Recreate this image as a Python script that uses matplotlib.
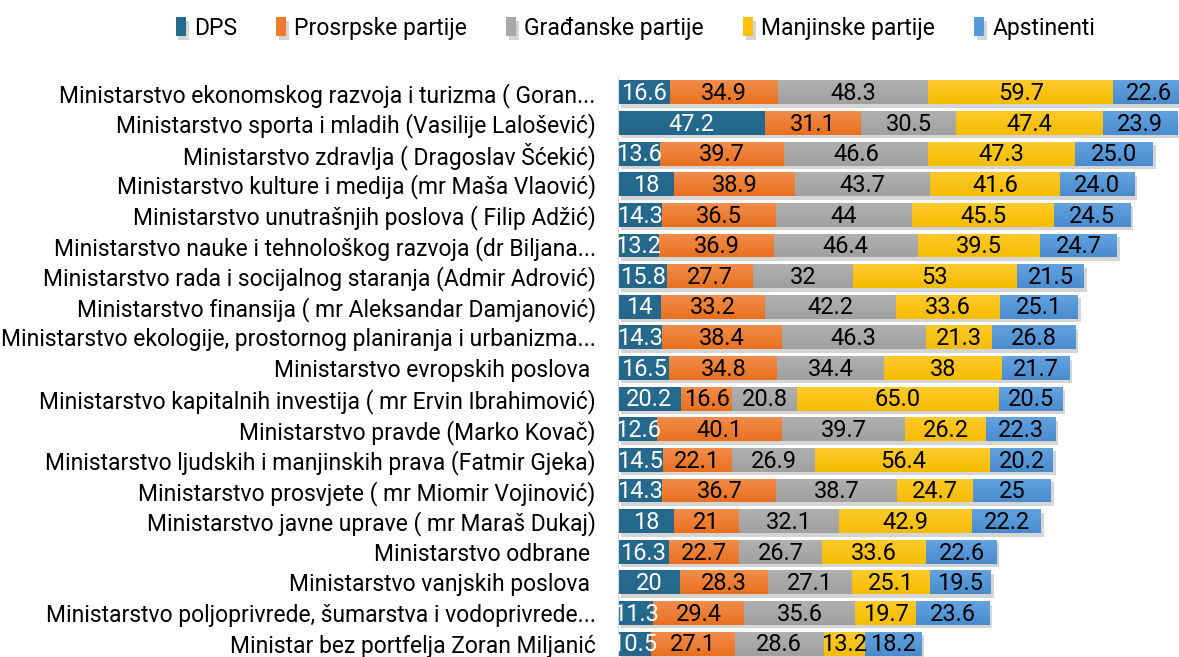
import matplotlib
matplotlib.use("Agg")
import matplotlib.pyplot as plt
import matplotlib.patheffects as pe
from matplotlib.colors import LinearSegmentedColormap
import numpy as np

# data (top row first)
categories = [
    "Ministarstvo ekonomskog razvoja i turizma ( Goran...",
    "Ministarstvo sporta i mladih (Vasilije Lalošević)",
    "Ministarstvo zdravlja ( Dragoslav Šćekić)",
    "Ministarstvo kulture i medija (mr Maša Vlaović)",
    "Ministarstvo unutrašnjih poslova ( Filip Adžić)",
    "Ministarstvo nauke i tehnološkog razvoja (dr Biljana...",
    "Ministarstvo rada i socijalnog staranja (Admir Adrović)",
    "Ministarstvo finansija ( mr Aleksandar Damjanović)",
    "Ministarstvo ekologije, prostornog planiranja i urbanizma...",
    "Ministarstvo evropskih poslova ",
    "Ministarstvo kapitalnih investija ( mr Ervin Ibrahimović)",
    "Ministarstvo pravde (Marko Kovač)",
    "Ministarstvo ljudskih i manjinskih prava (Fatmir Gjeka)",
    "Ministarstvo prosvjete ( mr Miomir Vojinović)",
    "Ministarstvo javne uprave ( mr Maraš Dukaj)",
    "Ministarstvo odbrane ",
    "Ministarstvo vanjskih poslova ",
    "Ministarstvo poljoprivrede, šumarstva i vodoprivrede...",
    "Ministar bez portfelja Zoran Miljanić",
]
series_names = ["DPS", "Prosrpske partije", "Građanske partije", "Manjinske partije", "Apstinenti"]

# label text as printed in the chart (number format differs per cell)
dps = ["16.6", "47.2", "13.6", "18", "14.3", "13.2", "15.8", "14", "14.3", "16.5",
       "20.2", "12.6", "14.5", "14.3", "18", "16.3", "20", "11.3", "10.5"]
prosrpske = ["34.9", "31.1", "39.7", "38.9", "36.5", "36.9", "27.7", "33.2", "38.4", "34.8",
             "16.6", "40.1", "22.1", "36.7", "21", "22.7", "28.3", "29.4", "27.1"]
gradjanske = ["48.3", "30.5", "46.6", "43.7", "44", "46.4", "32", "42.2", "46.3", "34.4",
              "20.8", "39.7", "26.9", "38.7", "32.1", "26.7", "27.1", "35.6", "28.6"]
manjinske = ["59.7", "47.4", "47.3", "41.6", "45.5", "39.5", "53", "33.6", "21.3", "38",
             "65.0", "26.2", "56.4", "24.7", "42.9", "33.6", "25.1", "19.7", "13.2"]
apstinenti = ["22.6", "23.9", "25.0", "24.0", "24.5", "24.7", "21.5", "25.1", "26.8", "21.7",
              "20.5", "22.3", "20.2", "25", "22.2", "22.6", "19.5", "23.6", "18.2"]

colors = ["#266A8E", "#EE7B2F", "#A8A8A8", "#FFC20E", "#559AD9"]
# (top, bottom) of the light vertical gradient on each bar
gradients = [("#266B8F", "#24678A"), ("#F28D4C", "#E8701E"), ("#B0B0B0", "#A0A0A0"),
             ("#FFCA2C", "#F5BC00"), ("#64A3DF", "#4A8BCF")]
text_colors = ["white", "black", "black", "black", "black"]

plt.rcParams["font.family"] = ["Roboto", "DejaVu Sans"]
plt.rcParams["font.size"] = 16.5

fig = plt.figure(figsize=(11.79, 6.57), dpi=100)
ax = fig.add_axes([618 / 1179, -2 / 657, 561 / 1179, 582 / 657])

bar_h = 0.78
grad = np.linspace(0, 1, 32).reshape(-1, 1)
y = np.arange(len(categories))
left = np.zeros(len(categories))
shadow = [pe.SimplePatchShadow(offset=(2, -2.5), alpha=0.3, shadow_rgbFace="#777777"), pe.Normal()]
for name, col, gcols, tcol, vals in zip(series_names, colors, gradients, text_colors,
                                        [dps, prosrpske, gradjanske, manjinske, apstinenti]):
    widths = np.array([float(v) for v in vals])
    bars = ax.barh(y, widths, left=left, height=bar_h, color=col, label=name, zorder=1)
    cmap = LinearSegmentedColormap.from_list(name, gcols)
    for b, yi, l, w, txt in zip(bars, y, left, widths, vals):
        b.set_path_effects(shadow)
        im = ax.imshow(grad, cmap=cmap, aspect="auto", origin="upper", zorder=1.5,
                       extent=(l, l + w, yi + bar_h / 2, yi - bar_h / 2))
        im.set_clip_path(b)
        t = ax.text(l + w / 2, yi + 0.04, txt, ha="center", va="center", color=tcol,
                    fontsize=17, zorder=3)
        t.set_clip_path(ax.patch)
    left += widths

ax.set_xlim(0, 180.6)
ax.set_ylim(len(categories) - 0.5, -0.5)
ax.set_aspect("auto")
ax.set_yticks(y)
ax.set_yticklabels(categories)
ax.tick_params(axis="y", length=0, pad=16)
ax.set_xticks([])
for s in ["top", "right", "bottom"]:
    ax.spines[s].set_visible(False)
ax.spines["left"].set_color("#D9D9D9")

fig.legend(loc="upper center", bbox_to_anchor=(0.539, 1.006), ncol=5, frameon=False,
           handlelength=0.45, handleheight=0.9, handletextpad=0.35, columnspacing=1.7,
           fontsize=16.5)

fig.savefig("out.png", dpi=100)
